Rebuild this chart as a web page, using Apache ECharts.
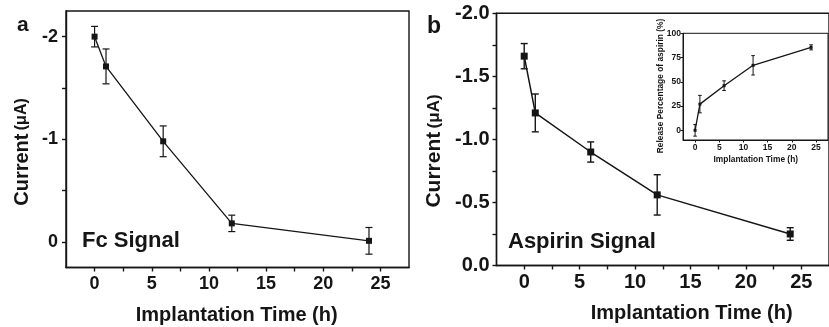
<!DOCTYPE html>
<html><head><meta charset="utf-8">
<script src="https://cdn.jsdelivr.net/npm/echarts@6/dist/echarts.min.js"></script>
<style>html,body{margin:0;padding:0;background:#fff}#c{width:829px;height:327px}</style>
</head><body><div id="c"></div>
<script>
// ---- data ----
const hours = [0, 1, 6, 12, 24];
const fcCurrent = [-2.0, -1.71, -0.98, -0.18, -0.01];
const fcError = [0.10, 0.17, 0.15, 0.08, 0.13];
const aspCurrent = [-1.66, -1.21, -0.90, -0.56, -0.25];
const aspError = [0.10, 0.15, 0.08, 0.16, 0.05];
const releasePct = [0, 27, 46, 67, 85.5];
const releaseErr = [6, 9, 5, 10, 2.6];
// ---- tick labels ----
const xTickLabels = [0, 5, 10, 15, 20, 25];
const xTickMarks = [0, 2.5, 5, 7.5, 10, 12.5, 15, 17.5, 20, 22.5, 25];
const fcYLabels = [-2, -1, 0];
const fcYTicks = [-2, -1.5, -1, -0.5, 0];
const aspYLabels = [-2, -1.5, -1, -0.5, 0];
const aspYTicks = [-2, -1.75, -1.5, -1.25, -1, -0.75, -0.5, -0.25, 0];
const insetYLabels = [0, 25, 50, 75, 100];
const insetXLabels = [0, 5, 10, 15, 20, 25];

const FF = '"Liberation Sans", Arial, Helvetica, sans-serif';
const INK = '#151515';

function errSeries(gi, vals, errs, cap, lw) {
  return {
    type: 'custom', xAxisIndex: gi, yAxisIndex: gi, z: 3,
    data: hours.map((h, i) => [h, vals[i] - errs[i], vals[i] + errs[i]]),
    encode: { x: 0, y: [1, 2] },
    renderItem: function (params, api) {
      const x = api.value(0);
      const p1 = api.coord([x, api.value(1)]);
      const p2 = api.coord([x, api.value(2)]);
      const st = { stroke: INK, lineWidth: lw, fill: null };
      return { type: 'group', children: [
        { type: 'line', shape: { x1: p1[0], y1: p1[1], x2: p2[0], y2: p2[1] }, style: st },
        { type: 'line', shape: { x1: p1[0] - cap, y1: p1[1], x2: p1[0] + cap, y2: p1[1] }, style: st },
        { type: 'line', shape: { x1: p2[0] - cap, y1: p2[1], x2: p2[0] + cap, y2: p2[1] }, style: st }
      ]};
    }
  };
}
function lineSeries(gi, vals, size, lw) {
  return {
    type: 'line', xAxisIndex: gi, yAxisIndex: gi, z: 4,
    data: hours.map((h, i) => [h, vals[i]]),
    symbol: 'rect', symbolSize: size, showSymbol: true,
    itemStyle: { color: INK }, lineStyle: { color: INK, width: lw },
    animation: false
  };
}
function xAx(gi, labels, ticks, fs, tickLen, margin, lw) {
  return {
    type: 'value', gridIndex: gi, min: -2.5, max: 27.5,
    axisLine: { show: true, onZero: false, lineStyle: { color: INK, width: lw } },
    axisTick: { show: true, inside: false, length: tickLen, customValues: ticks, lineStyle: { color: INK, width: lw } },
    axisLabel: { customValues: labels, margin: margin, fontFamily: FF, fontWeight: 'bold', fontSize: fs, color: INK },
    splitLine: { show: false }
  };
}
function yAx(gi, min, max, labels, ticks, fs, tickLen, margin, lw, inverse, fmt) {
  return {
    type: 'value', gridIndex: gi, min: min, max: max, inverse: inverse,
    axisLine: { show: true, onZero: false, lineStyle: { color: INK, width: lw } },
    axisTick: { show: true, inside: false, length: tickLen, customValues: ticks, lineStyle: { color: INK, width: lw } },
    axisLabel: { customValues: labels, margin: margin, fontFamily: FF, fontWeight: 'bold', fontSize: fs, color: INK, formatter: fmt },
    splitLine: { show: false }
  };
}
function txt(x, y, text, font, align) {
  return { type: 'text', x: x, y: y, z: 10,
    style: { text: text, font: font, fill: INK, align: align || 'left', verticalAlign: 'middle' } };
}

const chart = echarts.init(document.getElementById('c'), null, { renderer: 'canvas' });
chart.setOption({
  backgroundColor: '#ffffff',
  animation: false,
  grid: [
    { left: 66, top: 11, width: 343, height: 256.5, show: true, borderColor: INK, borderWidth: 1.4, backgroundColor: 'transparent' },
    { left: 496.5, top: 13.3, width: 342, height: 252.2, show: true, borderColor: INK, borderWidth: 1.4, backgroundColor: 'transparent' },
    { left: 683, top: 33.3, width: 145, height: 106.7, show: true, borderColor: INK, borderWidth: 1, backgroundColor: 'transparent' }
  ],
  xAxis: [
    xAx(0, xTickLabels, xTickMarks, 18, 4, 8, 1.4),
    xAx(1, xTickLabels, xTickMarks, 20, 4, 7, 1.4),
    xAx(2, insetXLabels, insetXLabels, 8.5, 2.5, 3, 1)
  ],
  yAxis: [
    yAx(0, -2.25, 0.25, fcYLabels, fcYTicks, 18, 4, 8, 1.4, true, v => String(v)),
    yAx(1, -2, 0, aspYLabels, aspYTicks, 20, 4, 7, 1.4, true, v => v.toFixed(1)),
    yAx(2, -10, 100, insetYLabels, insetYLabels, 8.5, 2.5, 2, 1, false, v => String(v))
  ],
  series: [
    errSeries(0, fcCurrent, fcError, 3.5, 1.2),
    lineSeries(0, fcCurrent, 6, 1.3),
    errSeries(1, aspCurrent, aspError, 3.5, 1.4),
    lineSeries(1, aspCurrent, 7, 1.5),
    errSeries(2, releasePct, releaseErr, 1.8, 1),
    lineSeries(2, releasePct, 3, 1.3)
  ],
  graphic: [
    txt(17, 25, 'a', 'bold 21px ' + FF),
    txt(427, 27, 'b', 'bold 23px ' + FF),
    txt(82, 241, 'Fc Signal', 'bold 22px ' + FF),
    txt(508, 242, 'Aspirin Signal', 'bold 22px ' + FF),
    txt(236.7, 315, 'Implantation Time (h)', 'bold 20px ' + FF, 'center'),
    txt(691.7, 313, 'Implantation Time (h)', 'bold 20px ' + FF, 'center'),
    txt(755.8, 160, 'Implantation Time (h)', 'bold 8.4px ' + FF, 'center'),
    { type: 'text', x: 22, y: 152, rotation: Math.PI / 2, z: 10,
      style: { text: '{b|Current} {n|(μA)}', align: 'center', verticalAlign: 'middle', fill: INK,
        rich: { b: { font: 'bold 20px ' + FF, fill: INK }, n: { font: 'bold 16px ' + FF, fill: INK } } } },
    { type: 'text', x: 434, y: 151, rotation: Math.PI / 2, z: 10,
      style: { text: '{b|Current} {n|(μA)}', align: 'center', verticalAlign: 'middle', fill: INK,
        rich: { b: { font: 'bold 21px ' + FF, fill: INK }, n: { font: 'bold 17px ' + FF, fill: INK } } } },
    { type: 'text', x: 661, y: 86, rotation: Math.PI / 2, z: 10,
      style: { text: 'Release Percentage of aspirin (%)', font: 'bold 8.4px ' + FF, fill: INK, align: 'center', verticalAlign: 'middle' } }
  ]
});
</script>
</body></html>
